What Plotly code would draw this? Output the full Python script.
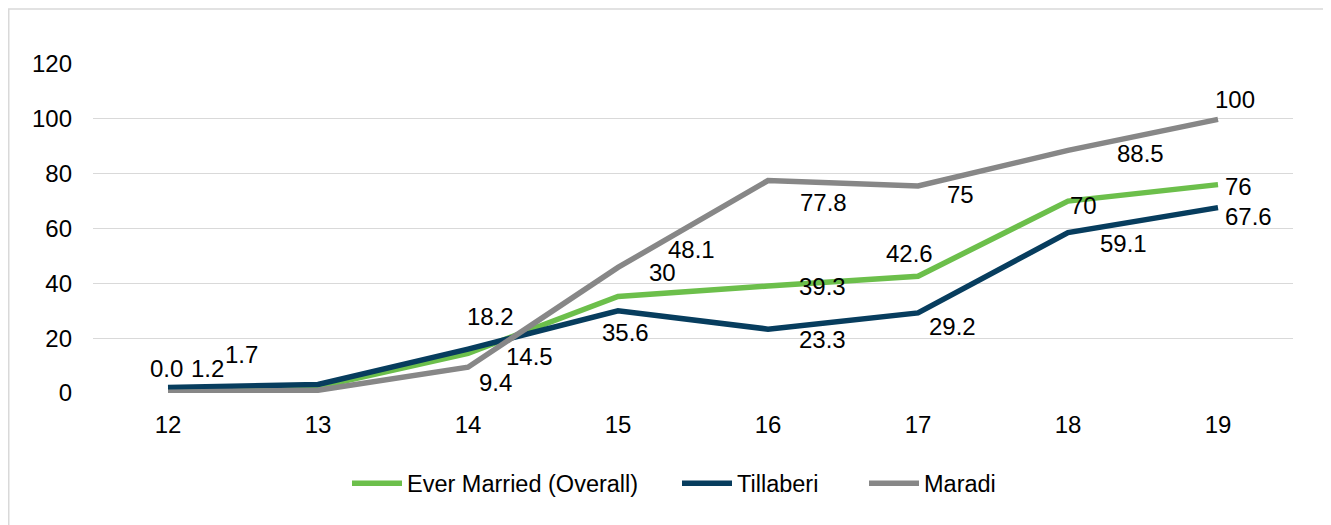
import plotly.graph_objects as go

ages = ["12", "13", "14", "15", "16", "17", "18", "19"]

ever_married = [1.0, 2.2, 14.5, 35.2, 39.0, 42.6, 70.0, 76.0]
tillaberi = [2.0, 3.1, 16.0, 30.0, 23.3, 29.2, 58.5, 67.6]
maradi = [0.3, 1.0, 9.4, 45.8, 77.5, 75.5, 88.5, 99.8]

# data label texts as printed on the chart (None = no label)
ever_married_labels = ["1.2", None, "14.5", "35.6", "39.3", "42.6", "70", "76"]
tillaberi_labels = ["1.7", None, "18.2", "30", "23.3", "29.2", "59.1", "67.6"]
maradi_labels = ["0.0", None, "9.4", "48.1", "77.8", "75", "88.5", "100"]

y_ticks = [0, 20, 40, 60, 80, 100, 120]

# label offsets in pixels (style only)
em_shift = [(39, 22), None, (61, -3), (7, -36), (54, 0), (-9, 23), (15, -4), (20, -2)]
ti_shift = [(73, 33), None, (22, 33), (44, 38), (54, -10), (34, -14), (55, -11), (30, -9)]
ma_shift = [(-2, 24), None, (27, -15), (73, 18), (55, -22), (42, -8), (72, -3), (17, 20)]

# page is rendered with an 8px body margin
W, H = 1323, 517
L, R, T, B = 85, 38, 56, 131.5
pw, ph = W - L - R, H - T - B

legend_left_px = [339, 669, 856]  # figure px where each legend box starts

series = [
    ("Ever Married (Overall)", ever_married, ever_married_labels, em_shift, "#6cbf4b", "legend"),
    ("Tillaberi", tillaberi, tillaberi_labels, ti_shift, "#073d5e", "legend2"),
    ("Maradi", maradi, maradi_labels, ma_shift, "#878787", "legend3"),
]

label_font = dict(family="Liberation Sans, Arial, sans-serif", size=24, color="#000000")

fig = go.Figure()
annotations = []
for name, vals, labels, shifts, color, leg in series:
    fig.add_trace(go.Scatter(
        x=ages, y=vals, mode="lines", name=name, legend=leg,
        line=dict(color=color, width=5.5),
        hoverinfo="skip",
    ))
    for i, (v, lab, sh) in enumerate(zip(vals, labels, shifts)):
        if lab is None:
            continue
        annotations.append(dict(
            x=i, y=v, xref="x", yref="y", text=lab, showarrow=False,
            xshift=sh[0], yshift=sh[1], xanchor="center", yanchor="middle",
            font=label_font,
        ))

shapes = [dict(
    type="rect", xref="paper", yref="paper",
    x0=(0.75 - L) / pw, x1=(W + 10 - L) / pw,
    y0=(H - B - (H + 10)) / ph, y1=(H - B - 1) / ph,
    line=dict(color="#d9d9d9", width=1.5), fillcolor="rgba(0,0,0,0)", layer="below",
)]

legend_font = dict(family="Liberation Sans, Arial, sans-serif", size=23.5, color="#000000")
leg_y = (H - B - 476) / ph


def legend_cfg(px):
    return dict(
        orientation="h", x=(px - L) / pw, xanchor="left", y=leg_y, yanchor="middle",
        font=legend_font, itemwidth=50, bgcolor="rgba(0,0,0,0)",
    )


fig.update_layout(
    width=W, height=H,
    margin=dict(l=L, r=R, t=T, b=B),
    paper_bgcolor="white", plot_bgcolor="white",
    font=dict(family="Liberation Sans, Arial, sans-serif", size=24, color="#000000"),
    annotations=annotations,
    shapes=shapes,
    showlegend=True,
    legend=legend_cfg(legend_left_px[0]),
    legend2=legend_cfg(legend_left_px[1]),
    legend3=legend_cfg(legend_left_px[2]),
    xaxis=dict(
        type="category", range=[-0.5, 7.5], showgrid=False, zeroline=False,
        showline=False, ticks="", ticklabelstandoff=15,
        tickfont=dict(family="Liberation Sans, Arial, sans-serif", size=24),
    ),
    yaxis=dict(
        range=[0, 120], tickvals=y_ticks, showgrid=True, gridcolor="#d9d9d9", gridwidth=1.3,
        zeroline=False, showline=False, ticks="", ticklabelstandoff=20,
        tickfont=dict(family="Liberation Sans, Arial, sans-serif", size=24),
    ),
)

fig.write_html("out.html", config={"displayModeBar": False})
